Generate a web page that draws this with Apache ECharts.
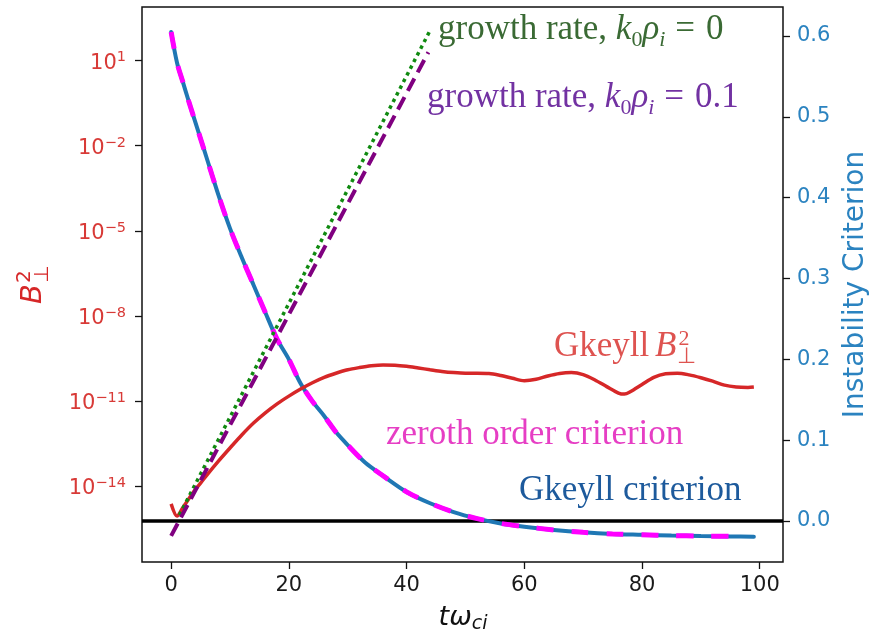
<!DOCTYPE html>
<html><head><meta charset="utf-8">
<script src="https://cdn.jsdelivr.net/npm/echarts@6/dist/echarts.min.js"></script>
<style>html,body{margin:0;padding:0;background:#fff}#c{width:870px;height:631px}</style>
</head><body><div id="c"></div>
<script>
// ---- data ----
const tCriterion = [0,1,2,3,4,5,6,8,10,12,14,16,18,20,22,24,26,28,30,33,36,40,44,48,52,56,60,65,70,75,80,85,90,95,99];
const gkeyllCriterion = [0.605,0.567,0.543,0.519,0.496,0.473,0.450,0.404,0.362,0.326,0.292,0.258,0.225,0.200,0.170,0.148,0.130,0.110,0.094,0.072,0.056,0.036,0.022,0.011,0.003,-0.003,-0.007,-0.011,-0.014,-0.016,-0.017,-0.018,-0.0186,-0.019,-0.0195];
const tZeroth = [0,1,2,3,4,5,6,8,10,12,14,16,18,20,22,24,26,28,30,33,36,40,44,48,52,56,60,65,70,75,80,85,90,95,97];
const zerothCriterion = [0.605,0.567,0.543,0.519,0.496,0.473,0.450,0.404,0.362,0.326,0.292,0.258,0.225,0.200,0.170,0.148,0.130,0.110,0.094,0.072,0.056,0.036,0.022,0.011,0.003,-0.003,-0.007,-0.011,-0.014,-0.016,-0.017,-0.018,-0.0186,-0.019,-0.0192];
const tB = [0,1,2,3,4,5,6,8,10,12,14,16,18,20,22,24,26,28,30,32,34,36,38,40,42,44,46,48,50,52,54,56,58,60,62,64,66,68,70,72,74,76,77,78,80,82,84,86,88,90,92,94,96,98,99];
const gkeyllB2 = [2.34e-15,8.7e-16,1.74e-15,3.55e-15,7.1e-15,1.26e-14,2.34e-14,7.4e-14,2.19e-13,6.3e-13,1.66e-12,3.8e-12,7.9e-12,1.48e-11,2.63e-11,4.4e-11,6.8e-11,9.5e-11,1.26e-10,1.51e-10,1.74e-10,1.86e-10,1.82e-10,1.66e-10,1.45e-10,1.26e-10,1.1e-10,1.0e-10,9.5e-11,9.5e-11,9.3e-11,7.9e-11,6.3e-11,5.2e-11,5.8e-11,7.6e-11,9.3e-11,1.0e-10,8.5e-11,5.5e-11,3.2e-11,1.9e-11,1.74e-11,2.1e-11,3.8e-11,6.8e-11,9.1e-11,9.5e-11,8.3e-11,6.6e-11,5.0e-11,3.6e-11,3.1e-11,3.0e-11,3.1e-11];
const tGrowth0 = [1.4, 43.85];
const growth0 = [9.5e-16, 1.02e2];
const tGrowth01 = [0, 43.7];
const growth01 = [1.74e-16, 19.8];
const zeroLevel = 0;
const xTicks = [0,20,40,60,80,100];
const leftTickExps = [-14,-11,-8,-5,-2,1];
const rightTicks = [0,0.1,0.2,0.3,0.4,0.5,0.6];

// ---- axis ranges ----
const X_MIN = -4.95, X_MAX = 103.95;
const L_MIN = -16.68, L_MAX = 2.893;   // log10 of B^2
const R_MIN = -0.0507, R_MAX = 0.6359;

const pairs = (xs, ys, f) => xs.map((x, i) => [x, f ? f(ys[i]) : ys[i]]);
const lg = v => Math.log10(v);

const RED = '#d62728', BLUE = '#1f77b4';
const SANS = 'DejaVu Sans', SERIF = 'Liberation Serif';

const chart = echarts.init(document.getElementById('c'), null, {renderer: 'canvas'});

function measure(text, font) {
  const c = document.createElement('canvas').getContext('2d');
  c.font = font; return c.measureText(text).width;
}

// annotation texts
const FS = 35;
function mathLabel(left, baseline, color, tail) {
  const rich = {
    n: {fontFamily: SERIF, fontSize: FS, lineHeight: 42, verticalAlign: 'middle', fill: color},
    e: {fontFamily: SERIF, fontSize: FS, lineHeight: 42, verticalAlign: 'middle', fill: color, padding: [0, 11, 0, 10]},
    i: {fontFamily: SERIF, fontStyle: 'italic', fontSize: FS, lineHeight: 42, verticalAlign: 'middle', fill: color},
    s: {fontFamily: SERIF, fontSize: 22, lineHeight: 22, verticalAlign: 'bottom', fill: color},
    si: {fontFamily: SERIF, fontStyle: 'italic', fontSize: 22, lineHeight: 22, verticalAlign: 'bottom', fill: color}
  };
  return {
    type: 'text', x: left, y: baseline - 0.34 * FS, z: 50,
    style: {text: '{n|growth rate, }{i|k}{s|0}{i|ρ}{si|i}{e|=}{n|' + tail + '}', rich: rich,
      verticalAlign: 'middle', align: 'left', fill: color}
  };
}
function plainLabel(text, left, baseline, color) {
  return {type: 'text', x: left, y: baseline - 0.34 * FS, z: 50,
    style: {text: text, font: FS + 'px "' + SERIF + '"', fill: color, verticalAlign: 'middle', align: 'left'}};
}
function gkeyllBLabel(left, baseline, color) {
  const w1 = measure('Gkeyll ', FS + 'px "' + SERIF + '"');
  const w2 = measure('B', 'italic ' + FS + 'px "' + SERIF + '"');
  return [
    {type: 'text', x: left, y: baseline - 0.34 * FS, z: 50,
      style: {text: 'Gkeyll ', font: FS + 'px "' + SERIF + '"', fill: color, verticalAlign: 'middle'}},
    {type: 'text', x: left + w1 - 3, y: baseline - 0.34 * FS, z: 50,
      style: {text: 'B', font: 'italic ' + FS + 'px "' + SERIF + '"', fill: color, verticalAlign: 'middle'}},
    {type: 'text', x: left + w1 + w2 - 1, y: baseline - 11.6 - 0.34 * 22, z: 50,
      style: {text: '2', font: '22px "' + SERIF + '"', fill: color, verticalAlign: 'middle'}},
    {type: 'text', x: left + w1 + w2 - 2, y: baseline + 6.7 - 0.34 * 22, z: 50,
      style: {text: '⊥', font: '22px "' + SERIF + '"', fill: color, verticalAlign: 'middle'}}
  ];
}
// rotated y-axis label B_perp^2
const bw = measure('B', 'italic 29px "' + SANS + '"');
const yName = {
  type: 'group', x: 44, y: 304, rotation: Math.PI / 2, z: 50,
  children: [
    {type: 'text', x: 0, y: -0.346 * 29, style: {text: 'B', font: 'italic 29px "' + SANS + '"', fill: RED, verticalAlign: 'middle'}},
    {type: 'text', x: bw + 1, y: -12.5 - 0.346 * 20, style: {text: '2', font: '20px "' + SANS + '"', fill: RED, verticalAlign: 'middle'}},
    {type: 'text', x: bw + 1, y: 6 - 0.346 * 20, style: {text: '⊥', font: '20px "' + SANS + '"', fill: RED, verticalAlign: 'middle'}}
  ]
};
const xName = {
  type: 'text', x: 463, y: 627 - 0.346 * 27, z: 50,
  style: {text: '{i|tω}{s|ci}', align: 'center', verticalAlign: 'middle',
    rich: {
      i: {fontFamily: SANS, fontStyle: 'italic', fontSize: 27, lineHeight: 32, verticalAlign: 'middle', fill: '#111'},
      s: {fontFamily: SANS, fontStyle: 'italic', fontSize: 19, lineHeight: 19, verticalAlign: 'bottom', fill: '#111'}
    }}
};

const tickStyle = {show: true, inside: false, length: 7, lineStyle: {color: '#111', width: 1.3}};
const option = {
  backgroundColor: '#fff',
  animation: false,
  grid: {left: 142, right: 87, top: 7, bottom: 69, show: true, borderColor: '#111', borderWidth: 1.5,
    backgroundColor: 'transparent', containLabel: false, outerBoundsMode: 'none'},
  xAxis: {
    type: 'value', min: X_MIN, max: X_MAX, position: 'bottom',
    axisLine: {show: false, onZero: false},
    splitLine: {show: false},
    axisTick: Object.assign({customValues: xTicks}, tickStyle),
    axisLabel: {customValues: xTicks, fontSize: 21, fontFamily: SANS, color: '#1a1a1a', margin: 13}
  },
  yAxis: [
    {
      type: 'value', min: L_MIN, max: L_MAX, position: 'left',
      axisLine: {show: false, onZero: false}, splitLine: {show: false},
      axisTick: Object.assign({customValues: leftTickExps}, tickStyle),
      axisLabel: {
        customValues: leftTickExps, margin: 16, padding: [5, 0, 0, 0],
        formatter: v => { const e = Math.round(v); return '{b|10}{s|' + (e < 0 ? '−' : '') + Math.abs(e) + '}'; },
        rich: {
          b: {fontFamily: SANS, fontSize: 21, lineHeight: 26, verticalAlign: 'middle', color: '#d83a37'},
          s: {fontFamily: SANS, fontSize: 14.5, lineHeight: 14, verticalAlign: 'top', color: '#d83a37'}
        }
      }
    },
    {
      type: 'value', min: R_MIN, max: R_MAX, position: 'right',
      axisLine: {show: false, onZero: false}, splitLine: {show: false},
      axisTick: Object.assign({customValues: rightTicks}, tickStyle),
      axisLabel: {customValues: rightTicks, formatter: v => v.toFixed(1), fontSize: 21, fontFamily: SANS, color: '#2b83c0', margin: 14},
      name: 'Instability Criterion', nameLocation: 'middle', nameRotate: 90, nameGap: 56,
      nameTextStyle: {fontFamily: SANS, fontSize: 28, color: '#2b83c0'}
    }
  ],
  series: [
    {name: 'zero', type: 'line', yAxisIndex: 1, data: [[X_MIN, zeroLevel], [X_MAX, zeroLevel]], symbol: 'none', z: 1,
      lineStyle: {color: '#000', width: 3.5}, silent: true},
    {name: 'Gkeyll criterion', type: 'line', yAxisIndex: 1, data: pairs(tCriterion, gkeyllCriterion), symbol: 'none', smooth: 0.3, z: 2,
      lineStyle: {color: BLUE, width: 4, cap: 'round'}},
    {name: 'zeroth order criterion', type: 'line', yAxisIndex: 1, data: pairs(tZeroth, zerothCriterion), symbol: 'none', smooth: 0.3, z: 3,
      lineStyle: {color: '#ff00ff', width: 5, type: [17, 18], cap: 'butt'}},
    {name: 'Gkeyll B2', type: 'line', yAxisIndex: 0, data: pairs(tB, gkeyllB2, lg), symbol: 'none', smooth: 0.3, z: 4,
      lineStyle: {color: RED, width: 3.5}},
    {name: 'growth0', type: 'line', yAxisIndex: 0, data: pairs(tGrowth0, growth0, lg), symbol: 'none', z: 5,
      lineStyle: {color: '#108a10', width: 3.5, type: [3.5, 4], cap: 'butt'}},
    {name: 'growth01', type: 'line', yAxisIndex: 0, data: pairs(tGrowth01, growth01, lg), symbol: 'none', z: 6,
      lineStyle: {color: '#800080', width: 4, type: [14, 7], cap: 'butt'}}
  ],
  graphic: [
    mathLabel(438, 42, '#3a6a34', '0'),
    mathLabel(427, 110, '#7232a2', '0.1'),
    ...gkeyllBLabel(554, 358.3, '#de5350'),
    plainLabel('zeroth order criterion', 386, 446.5, '#e63ec4'),
    plainLabel('Gkeyll criterion', 519, 502.5, '#1d5a9c'),
    yName, xName
  ]
};
chart.setOption(option);
</script></body></html>
